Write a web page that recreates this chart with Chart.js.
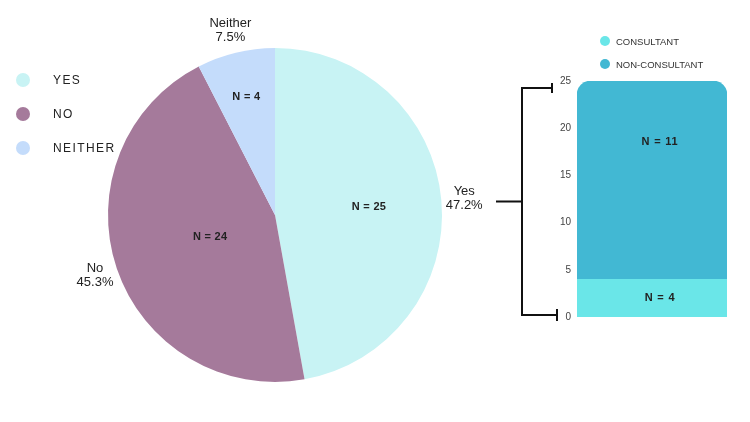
<!DOCTYPE html>
<html>
<head>
<meta charset="utf-8">
<script src="https://cdn.jsdelivr.net/npm/chart.js@4"></script>
<style>
html, body { margin: 0; padding: 0; background: #fff; }
#wrap { position: relative; width: 750px; height: 422px; }
canvas { position: absolute; left: 0; top: 0; }
</style>
</head>
<body>
<div id="wrap">
    <canvas id="pie" width="750" height="422"></canvas>
    <canvas id="bar" width="750" height="422"></canvas>
</div>
<script>
// pie data
const pieLabels = ["Yes", "No", "Neither"];
const pieCounts = [25, 24, 4];
const pieColors = ["#c8f3f4", "#a57a9b", "#c4dcfb"];

// breakdown of the "Yes" slice
const barCategory = ["Yes"];
const consultant = [4];
const nonConsultant = [21];
const barTexts = ["N = 4", "N = 11"];
const barColors = ["#6ae6e8", "#42b8d3"];
const barSeries = ["CONSULTANT", "NON-CONSULTANT"];
const yMax = 25;
const yStep = 5;

const FONT = "'Liberation Sans', Arial, sans-serif";

// where the N labels sit inside each slice (fraction of radius)
const innerPos = [0.565, 0.41, 0.73];

const pieExtras = {
    id: "pieExtras",
    afterDatasetsDraw(chart) {
        const ctx = chart.ctx;
        const meta = chart.getDatasetMeta(0);
        const total = pieCounts.reduce((a, b) => a + b, 0);
        ctx.save();
        ctx.textAlign = "center";
        ctx.textBaseline = "middle";
        meta.data.forEach((arc, i) => {
            const p = arc.getProps(["x", "y", "startAngle", "endAngle", "outerRadius"], true);
            const mid = (p.startAngle + p.endAngle) / 2;
            // count label
            const ri = p.outerRadius * innerPos[i];
            ctx.font = "bold 11px " + FONT;
            ctx.letterSpacing = "0.3px";
            ctx.fillStyle = "#222";
            ctx.fillText("N = " + pieCounts[i], p.x + Math.cos(mid) * ri, p.y + Math.sin(mid) * ri);
            // outside label
            const ro = p.outerRadius + 23;
            const ox = p.x + Math.cos(mid) * ro;
            const oy = p.y + Math.sin(mid) * ro;
            ctx.font = "13px " + FONT;
            ctx.letterSpacing = "0px";
            ctx.fillText(pieLabels[i], ox, oy - 7);
            ctx.fillText((pieCounts[i] / total * 100).toFixed(1) + "%", ox, oy + 7);
        });
        // legend on the left
        ctx.textAlign = "left";
        ctx.font = "12px " + FONT;
        ctx.letterSpacing = "1.4px";
        pieLabels.forEach((lab, i) => {
            const cy = 80 + i * 34;
            ctx.beginPath();
            ctx.arc(23, cy, 7, 0, Math.PI * 2);
            ctx.fillStyle = pieColors[i];
            ctx.fill();
            ctx.fillStyle = "#222";
            ctx.fillText(lab.toUpperCase(), 53, cy + 1);
        });
        ctx.restore();
    }
};

new Chart(document.getElementById("pie"), {
    type: "pie",
    data: {
        labels: pieLabels,
        datasets: [{
            data: pieCounts,
            backgroundColor: pieColors,
            borderWidth: 0,
        }],
    },
    options: {
        responsive: false,
        animation: false,
        layout: { padding: { left: 108, right: 308, top: 48, bottom: 40 } },
        plugins: { legend: { display: false }, tooltip: { enabled: false } },
    },
    plugins: [pieExtras],
});

const barExtras = {
    id: "barExtras",
    afterDatasetsDraw(chart) {
        const ctx = chart.ctx;
        const y = chart.scales.y;
        const left = chart.chartArea.left;
        ctx.save();
        // segment labels
        ctx.textAlign = "center";
        ctx.textBaseline = "middle";
        ctx.font = "bold 11px " + FONT;
        ctx.letterSpacing = "0.8px";
        ctx.fillStyle = "#222";
        [0, 1].forEach((d) => {
            const bar = chart.getDatasetMeta(d).data[0];
            const p = bar.getProps(["x", "y", "base"], true);
            const top = Math.min(p.y, p.base), h = Math.abs(p.base - p.y);
            const ly = d === 0 ? top + h / 2 : top + h * 0.31;
            ctx.fillText(barTexts[d], p.x + 8, ly);
        });
        // legend
        ctx.textAlign = "left";
        ctx.font = "9.5px " + FONT;
        ctx.letterSpacing = "0px";
        barSeries.forEach((s, i) => {
            const cy = 41 + i * 23;
            ctx.beginPath();
            ctx.arc(left + 28, cy, 5, 0, Math.PI * 2);
            ctx.fillStyle = barColors[i];
            ctx.fill();
            ctx.fillStyle = "#333";
            ctx.fillText(s, left + 39, cy + 1);
        });
        // bracket linking the Yes slice to the bar
        const yTop = y.getPixelForValue(yMax) + 7;
        const yBot = y.getPixelForValue(0) - 2;
        const vx = left - 55;
        ctx.strokeStyle = "#111";
        ctx.lineWidth = 2;
        ctx.beginPath();
        ctx.moveTo(left - 25, yTop);
        ctx.lineTo(vx, yTop);
        ctx.lineTo(vx, yBot);
        ctx.lineTo(left - 20, yBot);
        ctx.moveTo(left - 25, yTop - 5);
        ctx.lineTo(left - 25, yTop + 5);
        ctx.moveTo(left - 20, yBot - 6);
        ctx.lineTo(left - 20, yBot + 6);
        ctx.moveTo(vx - 26, (yTop + yBot) / 2);
        ctx.lineTo(vx, (yTop + yBot) / 2);
        ctx.stroke();
        ctx.restore();
    }
};

new Chart(document.getElementById("bar"), {
    type: "bar",
    data: {
        labels: barCategory,
        datasets: [{
            label: barSeries[0],
            data: consultant,
            backgroundColor: barColors[0],
            borderRadius: 0,
            borderSkipped: false,
        }, {
            label: barSeries[1],
            data: nonConsultant,
            backgroundColor: barColors[1],
            borderRadius: { topLeft: 14, topRight: 14, bottomLeft: 0, bottomRight: 0 },
            borderSkipped: false,
        }],
    },
    options: {
        responsive: false,
        animation: false,
        layout: { padding: { left: 480, right: 23, top: 81, bottom: 105 } },
        datasets: { bar: { barPercentage: 1, categoryPercentage: 1 } },
        scales: {
            x: { stacked: true, display: false },
            y: {
                stacked: true,
                min: 0,
                max: yMax,
                ticks: { stepSize: yStep, padding: -2, color: "#444", font: { size: 10, family: FONT } },
                grid: { display: false },
                border: { display: false },
                afterFit(s) { s.width = 97; },
            },
        },
        plugins: { legend: { display: false }, tooltip: { enabled: false } },
    },
    plugins: [barExtras],
});
</script>
</body>
</html>
